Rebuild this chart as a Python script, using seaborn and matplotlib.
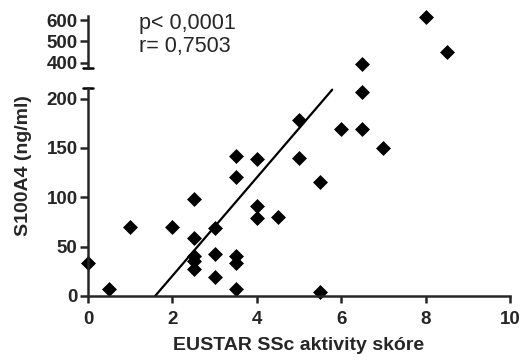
import numpy as np
import pandas as pd
import matplotlib
matplotlib.use("Agg")
import matplotlib.pyplot as plt
import seaborn as sns

# ---- data ----
eustar_score = [0.0, 0.5, 1.0, 2.0,
                2.5, 2.5, 2.5, 2.5, 2.5,
                3.0, 3.0, 3.0,
                3.5, 3.5, 3.5, 3.5, 3.5,
                4.0, 4.0, 4.0, 4.5,
                5.0, 5.0, 5.5, 5.5,
                6.0, 6.5, 6.5, 6.5, 7.0,
                8.0, 8.5]
s100a4 = [33, 7, 70, 70,
          98, 59, 41, 35, 27,
          69, 43, 19,
          142, 121, 41, 33, 7,
          139, 91, 79, 80,
          178, 140, 115, 4,
          169, 169, 207, 395, 150,
          615, 451]
fit_slope = 49.8
fit_intercept = -79.2
stats_text = ["p< 0,0001", "r= 0,7503"]
x_ticks = [0, 2, 4, 6, 8, 10]
low_ticks = [0, 50, 100, 150, 200]
high_ticks = [400, 500, 600]
x_label = "EUSTAR SSc aktivity skóre"
y_label = "S100A4 (ng/ml)"

df = pd.DataFrame({"x": eustar_score, "y": s100a4})
low_lim = (0, 210.7)
high_lim = (376, 620)

sns.set_theme(style="ticks")
plt.rcParams["font.family"] = ["Liberation Sans", "DejaVu Sans"]
plt.rcParams["axes.linewidth"] = 1.8
plt.rcParams["xtick.major.width"] = 1.8
plt.rcParams["ytick.major.width"] = 1.8
plt.rcParams["xtick.major.size"] = 5
plt.rcParams["ytick.major.size"] = 5.5

W, H = 523, 363
fig = plt.figure(figsize=(W / 100, H / 100), dpi=100)

def fx(px):
    return px / W

def fy(py):
    return 1 - py / H

ax_low = fig.add_axes([fx(88), fy(296), fx(510) - fx(88), fy(88) - fy(296)])
ax_high = fig.add_axes([fx(88), fy(67.7), fx(510) - fx(88), fy(16) - fy(67.7)])

low = df[df.y < 300]
high = df[df.y >= 300]
mk = dict(marker="D", color="black", s=58, edgecolor="black", linewidth=0, clip_on=False, legend=False)
sns.scatterplot(data=low, x="x", y="y", ax=ax_low, **mk)
sns.scatterplot(data=high, x="x", y="y", ax=ax_high, **mk)

# regression line inside lower range
line_x = np.array([(low_lim[0] - fit_intercept) / fit_slope, (209 - fit_intercept) / fit_slope])
line_df = pd.DataFrame({"x": line_x, "y": fit_slope * line_x + fit_intercept})
sns.lineplot(data=line_df, x="x", y="y", ax=ax_low, color="black", linewidth=1.6)

TICK_FS = 13.5
LABEL_FS = 14
for ax in (ax_low, ax_high):
    ax.set_xlim(0, 10)
    ax.spines["top"].set_visible(False)
    ax.spines["right"].set_visible(False)
    ax.set_facecolor("none")

ax_low.set_ylim(*low_lim)
ax_low.set_yticks(low_ticks)
ax_low.set_xticks(x_ticks)
ax_low.set_xticklabels([str(t) for t in x_ticks], fontweight="bold", fontsize=TICK_FS)
ax_low.set_yticklabels([str(t) for t in low_ticks], fontweight="bold", fontsize=TICK_FS)
ax_low.tick_params(axis="y", pad=2)
ax_low.tick_params(axis="x", pad=6)
ax_low.set_xlabel(x_label, fontweight="bold", fontsize=LABEL_FS, labelpad=6)
ax_low.set_ylabel(y_label, fontweight="bold", fontsize=LABEL_FS)
ax_low.yaxis.set_label_coords(-0.133, 0.625)

ax_high.set_ylim(*high_lim)
ax_high.set_yticks(high_ticks)
ax_high.set_yticklabels([str(t) for t in high_ticks], fontweight="bold", fontsize=TICK_FS)
ax_high.tick_params(axis="y", pad=2)
ax_high.spines["bottom"].set_visible(False)
ax_high.set_xticks([])
ax_high.set_xlabel("")
ax_high.set_ylabel("")

# end caps at the axis break
ax_high.plot([-0.12, 0.12], [high_lim[0], high_lim[0]], color="black", lw=1.8, clip_on=False)
ax_low.plot([-0.12, 0.12], [low_lim[1], low_lim[1]], color="black", lw=1.8, clip_on=False)

ax_high.text(1.22, 585, stats_text[0], fontsize=15.5, va="center", ha="left")
ax_high.text(1.22, 476, stats_text[1], fontsize=15.5, va="center", ha="left")

fig.savefig("out.png", dpi=100)
